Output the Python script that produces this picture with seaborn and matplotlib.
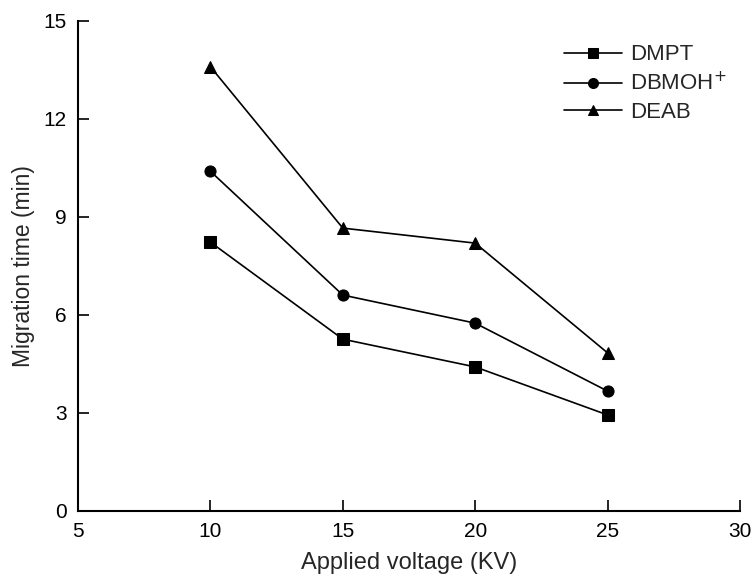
import pandas as pd
import matplotlib
matplotlib.use("Agg")
import matplotlib.pyplot as plt
import seaborn as sns

sns.set_style("ticks")
plt.rcParams['font.family'] = ['Liberation Sans', 'DejaVu Sans']

voltage = [10, 15, 20, 25]
dmpt = [8.23, 5.26, 4.41, 2.94]
dbmoh = [10.4, 6.61, 5.75, 3.67]
deab = [13.6, 8.66, 8.2, 4.84]

names = ['DMPT', 'DBMOH$^{+}$', 'DEAB']
series = [dmpt, dbmoh, deab]
markers = ['s', 'o', '^']

rows = []
for name, vals in zip(names, series):
    for v, t in zip(voltage, vals):
        rows.append({'voltage': v, 'time': t, 'compound': name})
df = pd.DataFrame(rows)

fig = plt.figure(figsize=(7.53, 5.8), dpi=100)
ax = fig.add_axes([0.1036, 0.119, 0.8791, 0.8448])

for name, m in zip(names, markers):
    sub = df[df['compound'] == name]
    sns.lineplot(data=sub, x='voltage', y='time', ax=ax, color='black',
                 marker=m, markersize=8, markeredgecolor='black',
                 linewidth=1.2, label=name)

ax.set_xlim(5, 30)
ax.set_ylim(0, 15)
ax.set_xticks([5, 10, 15, 20, 25, 30])
ax.set_yticks([0, 3, 6, 9, 12, 15])
ax.tick_params(direction='in', length=8, width=1.2, labelsize=15, pad=8, colors='black')
for s in ['top', 'right']:
    ax.spines[s].set_visible(False)
for s in ['left', 'bottom']:
    ax.spines[s].set_linewidth(1.5)
    ax.spines[s].set_color('black')

ax.set_xlabel('Applied voltage (KV)', fontsize=17, labelpad=8)
ax.set_ylabel('Migration time (min)', fontsize=16.5, labelpad=6)

ax.legend(loc='upper left', bbox_to_anchor=(0.7175, 0.975), frameon=False,
          borderpad=0, fontsize=16, handlelength=2.6, labelspacing=0.3,
          handletextpad=0.35, markerscale=0.9)

fig.savefig('out.png', dpi=100)
